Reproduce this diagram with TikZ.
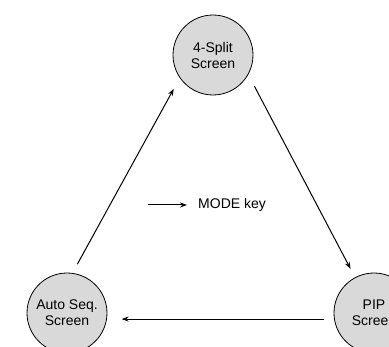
\documentclass[tikz,border=0pt]{standalone}
\usepackage{fontspec}
\setmainfont{Liberation Sans}
\usetikzlibrary{arrows.meta,calc,positioning}
\definecolor{screengray}{gray}{0.85}

\begin{document}
\begin{tikzpicture}[x=1bp,y=1bp,
    screen/.style={circle,draw=black,fill=screengray,line width=0.8bp,minimum size=80bp,
      inner sep=0pt,outer sep=10bp,align=center,font=\fontsize{14bp}{16bp}\selectfont},
    flow/.style={line width=1bp,-{Stealth[length=7bp,width=5bp]}}]
  \useasboundingbox (0,0) rectangle (389,347);
  \clip (0,0) rectangle (389,347);
  % Screens
  \node[screen] (split) at (213,292) {4-Split\\Screen};
  \node[screen] (pip) at (374,34) {PIP\\Screen};
  \node[screen] (auto) at (67,34) {Auto Seq.\\Screen};
  % Mode changes
  \draw[flow,shorten >=2bp] (auto.78) -- (split.220);
  \draw[flow,shorten <=2bp] (split.-36) -- (pip.118);
  \draw[flow,shorten >=5bp] (pip.187) -- (auto.-7);
  % Legend
  \coordinate (keystart) at (148,142);
  \node[anchor=west,inner sep=0pt,font=\fontsize{14bp}{16bp}\selectfont] (modekey) at (198,142) {MODE key};
  \draw[flow,shorten >=11bp] (keystart) -- (modekey.west);
\end{tikzpicture}
\end{document}
